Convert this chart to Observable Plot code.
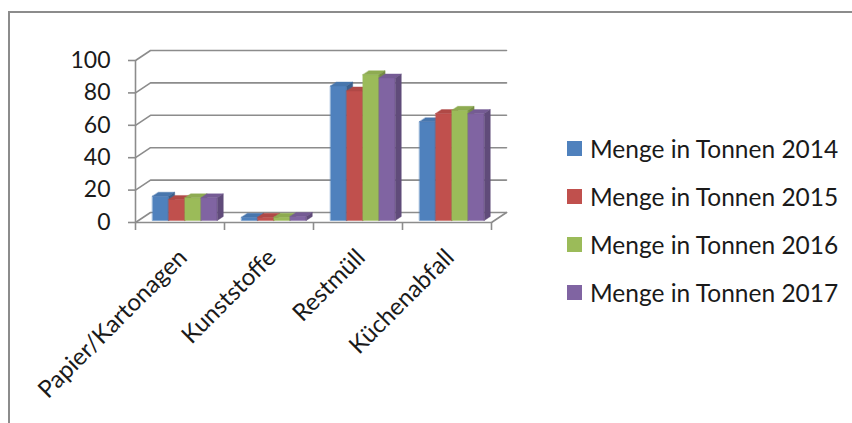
<!DOCTYPE html>
<html><head><meta charset="utf-8">
<script src="https://cdn.jsdelivr.net/npm/d3@7"></script>
<script src="https://cdn.jsdelivr.net/npm/@observablehq/plot@0.6"></script>
<style>
body{margin:0;background:#fff;width:852px;height:423px;overflow:hidden;position:relative;font-family:Lato,sans-serif}
#frame{position:absolute;left:8px;top:11px;width:844px;height:412px;border-top:2px solid #8c8c8c;border-left:2px solid #8c8c8c;box-sizing:border-box}
#chart{position:absolute;left:0;top:0}
#legend{position:absolute;left:567px;top:124px}
.row{display:flex;align-items:center;height:48px}
.sw{width:15px;height:15px;margin-right:8px;flex:none}
.lab{font-size:24.5px;color:#1a1a1a;white-space:nowrap}
</style></head><body>
<div id="frame"></div><div id="chart"></div><div id="legend"></div>
<script>
const categories = ["Papier/Kartonagen", "Kunststoffe", "Restmüll", "Küchenabfall"];
const seriesNames = ["Menge in Tonnen 2014", "Menge in Tonnen 2015", "Menge in Tonnen 2016", "Menge in Tonnen 2017"];
const v2014 = [15, 2, 83, 61];
const v2015 = [13, 2, 80, 66];
const v2016 = [14, 2, 90, 68];
const v2017 = [14, 2.5, 88, 66];
const yTicks = [0, 20, 40, 60, 80, 100];
const colors = ["#4F81BD", "#C0504D", "#9BBB59", "#8064A2"];

// geometry (pixel -> data unit conversion for oblique 3D look)
const X0 = 135, X4 = 491, Y0 = 222, Y100 = 60;
const pxX = (X4 - X0) / 4, pxY = (Y0 - Y100) / 100;
const WX = 15 / pxX, WY = 10 / pxY;       // back-wall depth offset
const BASE = 2 / pxY;                      // bar front-face baseline
const BAR_OFF = 17 / pxX, BW = 16.2 / pxX; // bar offset & width
const BX = 6 / pxX, BY = 4 / pxY;          // bar depth

const series = [v2014, v2015, v2016, v2017];

// wall gridlines + floor
const grid = [];
yTicks.forEach(v => {
  [[0, v], [WX, v + WY], [4 + WX, v + WY]].forEach(([x, y]) => grid.push({id: "g" + v, x, y}));
});
[[0, 0], [4, 0], [4 + WX, WY]].forEach(([x, y]) => grid.push({id: "floor", x, y}));

// bar faces
const faces = [];
categories.forEach((c, i) => {
  series.forEach((vals, j) => {
    const v = vals[i];
    const x1 = i + BAR_OFF + j * BW, x2 = x1 + BW;
    const y0 = BASE, y1 = BASE + v;
    const col = d3.color(colors[j]);
    const id = i + "-" + j;
    const push = (f, fill, pts) => pts.forEach(([x, y]) => faces.push({id: id + f, x, y, fill}));
    push("f", col.formatHex(), [[x1, y0], [x2, y0], [x2, y1], [x1, y1]]);
    push("t", col.darker(0.25).formatHex(), [[x1, y1], [x2, y1], [x2 + BX, y1 + BY], [x1 + BX, y1 + BY]]);
    push("s", col.darker(0.8).formatHex(), [[x2, y0], [x2 + BX, y0 + BY], [x2 + BX, y1 + BY], [x2, y1]]);
  });
});

const chart = Plot.plot({
  width: 560,
  height: 423,
  marginLeft: X0,
  marginTop: 40,
  marginBottom: 423 - Y0,
  marginRight: 20,
  style: {fontFamily: "Lato, sans-serif", fontSize: "22px", background: "transparent", overflow: "visible"},
  x: {domain: [0, 4], range: [X0, X4], axis: null},
  y: {domain: [0, 100], range: [Y0, Y100], axis: null},
  marks: [
    Plot.line(grid, {x: "x", y: "y", z: "id", stroke: "#8c8c8c", strokeWidth: 1.6}),
    Plot.ruleX([0], {y1: 0, y2: 100, stroke: "#8c8c8c", strokeWidth: 1.6}),
    Plot.ruleX([0, 1, 2, 3, 4], {y1: 0, y2: -8 / pxY, stroke: "#8c8c8c", strokeWidth: 1.6}),
    Plot.axisY({ticks: yTicks, anchor: "left", tickSize: 7, tickPadding: 18, stroke: "#8c8c8c", strokeWidth: 1.6, fill: "#1a1a1a", fontSize: 23, label: null}),
    Plot.line(faces, {x: "x", y: "y", z: "id", fill: "fill", stroke: "fill", strokeWidth: 0.4, curve: "linear-closed"}),
    Plot.text(categories, {x: (d, i) => i + 0.5, y: 0, dx: 3, dy: 31, rotate: -45, textAnchor: "end", fill: "#1a1a1a", fontSize: 24})
  ]
});
document.getElementById("chart").appendChild(chart);

const legend = document.getElementById("legend");
seriesNames.forEach((name, j) => {
  const row = document.createElement("div");
  row.className = "row";
  row.innerHTML = `<div class="sw" style="background:${colors[j]}"></div><div class="lab">${name}</div>`;
  legend.appendChild(row);
});
</script>
</body></html>
